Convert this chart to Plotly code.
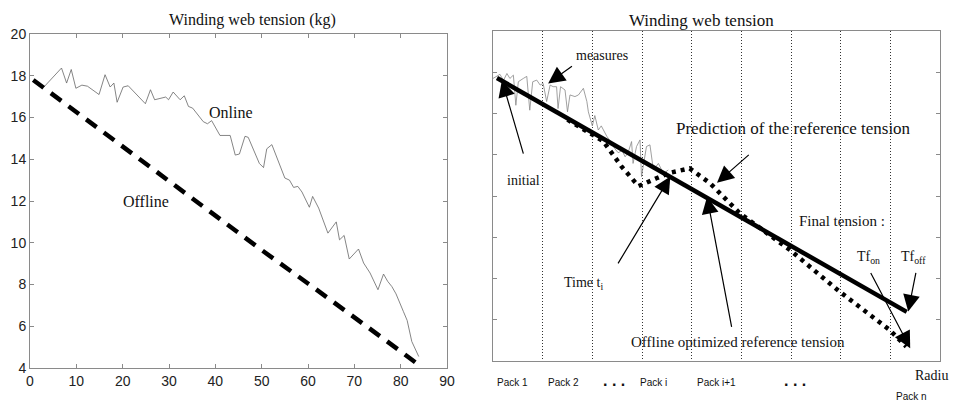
import plotly.graph_objects as go

# ---------------- Left panel data ----------------
online_x = [3.0, 4.7, 6.8, 7.9, 8.9, 9.9, 11.2, 12.4, 14.9, 16.2, 17.3, 18.1, 18.8, 20.1, 21.2,
            24.9, 26.0, 26.9, 29.3, 29.9, 30.9, 32.4, 33.3, 34.2, 35.1, 37.4, 38.3, 39.2, 41.0,
            43.2, 44.3, 45.2, 46.4, 47.1, 49.5, 50.4, 51.1, 52.2, 55.0, 56.0, 56.9, 57.8, 58.7,
            60.3, 61.0, 62.3, 64.3, 66.1, 66.8, 67.8, 68.9, 70.9, 72.0, 73.4, 75.1, 76.3, 77.2,
            78.1, 79.0, 80.6, 81.4, 82.4, 83.9]
online_y = [17.46, 17.86, 18.37, 17.65, 18.30, 17.40, 17.55, 17.50, 17.10, 18.05, 17.46, 17.65,
            16.73, 17.46, 17.52, 16.66, 17.33, 16.85, 16.98, 16.85, 17.22, 16.85, 17.04, 16.53,
            16.45, 15.80, 15.70, 15.85, 15.14, 15.14, 14.20, 14.25, 15.10, 15.05, 13.80, 13.60,
            14.50, 14.70, 13.10, 13.00, 12.65, 12.70, 12.43, 11.70, 12.22, 11.66, 10.46, 11.00,
            10.14, 10.35, 9.22, 9.70, 9.03, 8.55, 7.75, 8.50, 8.15, 7.90, 7.55, 6.70, 6.28,
            5.27, 4.55]
offline_x = [0.7, 10, 20, 30, 40, 50, 60, 70, 80, 83.9]
offline_y = [17.8, 16.25, 14.6, 12.95, 11.3, 9.65, 8.05, 6.45, 4.8, 4.15]
left_xticks = [0, 10, 20, 30, 40, 50, 60, 70, 80, 90]
left_yticks = [4, 6, 8, 10, 12, 14, 16, 18, 20]

# ---------------- Right panel data ----------------
ref_x = [0.08, 8.33]
ref_y = [6.86, 1.19]
pred_x = [1.5, 2.0, 2.22, 2.59, 2.93, 3.29, 3.56, 3.96, 4.37, 4.97, 5.64, 5.98, 6.98, 7.99, 8.32]
pred_y = [5.85, 5.50, 5.33, 4.71, 4.24, 4.43, 4.56, 4.67, 4.31, 3.58, 3.01, 2.69, 1.68, 0.75, 0.35]
meas_x = [0.00, 0.07, 0.14, 0.21, 0.28, 0.34, 0.41, 0.46, 0.51, 0.61, 0.68, 0.74, 0.80, 0.88,
          0.95, 1.01, 1.08, 1.15, 1.21, 1.28, 1.31, 1.36, 1.45, 1.50, 1.55, 1.65, 1.72, 1.82,
          1.89, 1.92, 2.00, 2.05, 2.12, 2.18, 2.29, 2.38, 2.45, 2.52, 2.60, 2.66, 2.72, 2.79,
          2.82, 2.89, 2.96, 2.99, 3.09, 3.16, 3.23, 3.33, 3.43, 3.53]
meas_y = [6.85, 6.90, 6.95, 6.80, 6.97, 6.85, 6.93, 6.20, 6.77, 6.85, 6.90, 6.08, 6.77, 6.81,
          6.69, 6.73, 6.29, 6.69, 6.65, 6.65, 6.12, 6.65, 6.57, 6.04, 6.45, 6.41, 6.45, 6.61,
          6.29, 6.04, 5.70, 5.95, 5.60, 5.70, 5.45, 5.30, 5.15, 5.05, 5.10, 4.95, 5.05, 5.32,
          4.79, 5.20, 5.36, 4.47, 5.20, 5.24, 4.63, 4.79, 4.55, 4.63]
pack_bounds = [1, 2, 3, 4, 5, 6, 7, 8]
right_yticks = [1, 2, 3, 4, 5, 6, 7]

W, H = 954, 406
serif = "Liberation Serif"
sans = "Liberation Sans"

fig = go.Figure()

fig.add_trace(go.Scatter(x=online_x, y=online_y, mode="lines",
                         line=dict(color="#666666", width=0.8), xaxis="x", yaxis="y",
                         showlegend=False, hoverinfo="skip"))
fig.add_trace(go.Scatter(x=offline_x, y=offline_y, mode="lines",
                         line=dict(color="black", width=4.5, dash="13px,9px"), xaxis="x", yaxis="y",
                         showlegend=False, hoverinfo="skip"))

fig.add_trace(go.Scatter(x=meas_x, y=meas_y, mode="lines",
                         line=dict(color="#888888", width=0.8), xaxis="x2", yaxis="y2",
                         showlegend=False, hoverinfo="skip"))
fig.add_trace(go.Scatter(x=pred_x, y=pred_y, mode="lines",
                         line=dict(color="black", width=4.5, dash="4px,5px"), xaxis="x2", yaxis="y2",
                         showlegend=False, hoverinfo="skip"))
fig.add_trace(go.Scatter(x=ref_x, y=ref_y, mode="lines",
                         line=dict(color="black", width=4.5), xaxis="x2", yaxis="y2",
                         showlegend=False, hoverinfo="skip"))

def px_x(p):
    return p / W

def px_y(p):
    return 1 - p / H

frame = "#8a8a8a"
fig.update_layout(
    width=W, height=H, margin=dict(l=0, r=0, t=0, b=0, autoexpand=False),
    paper_bgcolor="white", plot_bgcolor="white",
    xaxis=dict(domain=[px_x(30), px_x(447)], range=[0, 90], tickvals=left_xticks,
               ticks="inside", ticklen=4, tickcolor=frame, showline=True, linecolor=frame,
               linewidth=1, mirror="ticks", showgrid=False, zeroline=False, automargin=False,
               tickfont=dict(family=sans, size=14, color="#222"), anchor="y"),
    yaxis=dict(domain=[px_y(368), px_y(34)], range=[4, 20], tickvals=left_yticks,
               ticks="inside", ticklen=4, tickcolor=frame, showline=True, linecolor=frame,
               linewidth=1, mirror="ticks", showgrid=False, zeroline=False, automargin=False,
               tickfont=dict(family=sans, size=14, color="#222"), anchor="x"),
    xaxis2=dict(domain=[px_x(493), px_x(940)], range=[0, 9], tickvals=pack_bounds,
                showticklabels=False, ticks="", showline=True, linecolor=frame, linewidth=1,
                mirror=True, showgrid=True, gridcolor="#333", griddash="1px,2px", gridwidth=1,
                zeroline=False, automargin=False, anchor="y2"),
    yaxis2=dict(domain=[px_y(361), px_y(31)], range=[0, 8], tickvals=right_yticks,
                showticklabels=False, ticks="inside", ticklen=4, tickcolor=frame,
                showline=True, linecolor=frame, linewidth=1, mirror="ticks",
                showgrid=False, zeroline=False, automargin=False, anchor="x2"),
)

anns = []

def text_px(t, x, y, size=15, family=serif, color="#111", xanchor="center"):
    anns.append(dict(text=t, x=px_x(x), y=px_y(y), xref="paper", yref="paper",
                     showarrow=False, xanchor=xanchor, yanchor="middle",
                     font=dict(family=family, size=size, color=color)))

# left texts
text_px("Winding web tension (kg)", 252, 20, size=16)
text_px("Online", 231, 112, size=16)
text_px("Offline", 146, 202, size=16)

# right texts
text_px("Winding web tension", 701, 20, size=17)
text_px("measures", 602, 55, size=14)
text_px("initial", 523, 180, size=14)
text_px("Prediction of the reference tension", 793, 128, size=17)
text_px("Time t<sub>i</sub>", 583, 283, size=14)
text_px("Offline optimized reference tension", 738, 342, size=15)
text_px("Final tension :", 842, 221, size=15)
text_px("Tf<sub>on</sub>", 868, 257, size=14)
text_px("Tf<sub>off</sub>", 913, 257, size=14)
text_px("Radiu", 950, 375, size=14, xanchor="right")

# pack labels
pack_labels = ["Pack 1", "Pack 2", "Pack i", "Pack i+1"]
pack_pos = [512, 563, 653, 716]
for lab, p in zip(pack_labels, pack_pos):
    text_px(lab, p, 382, size=10, family=sans)
text_px("Pack n", 911, 396, size=10, family=sans)
text_px("<b>. . .</b>", 614, 380, size=16, family=sans)
text_px("<b>. . .</b>", 795, 380, size=16, family=sans)

# arrows (data coords on right panel)
arrows = [
    ((1.62, 7.17), (1.11, 6.73)),   # measures
    ((0.62, 4.99), (0.18, 6.81)),   # initial
    ((5.18, 5.03), (4.51, 4.32)),   # prediction
    ((2.50, 2.33), (3.57, 4.47)),   # time t_i
    ((4.81, 0.79), (4.31, 3.98)),   # offline optimized
    ((7.59, 2.17), (8.40, 0.31)),   # Tf_on
    ((8.52, 2.17), (8.36, 1.20)),   # Tf_off
]
for (tx, ty), (hx, hy) in arrows:
    anns.append(dict(x=hx, y=hy, ax=tx, ay=ty, xref="x2", yref="y2", axref="x2", ayref="y2",
                     text="", showarrow=True, arrowhead=2, arrowsize=2.8, arrowwidth=1.2,
                     arrowcolor="black"))

fig.update_layout(annotations=anns)
fig.write_html(
    "out.html",
    config={"displayModeBar": False},
    post_script="document.body.style.margin='0';document.body.style.overflow='hidden';",
)
